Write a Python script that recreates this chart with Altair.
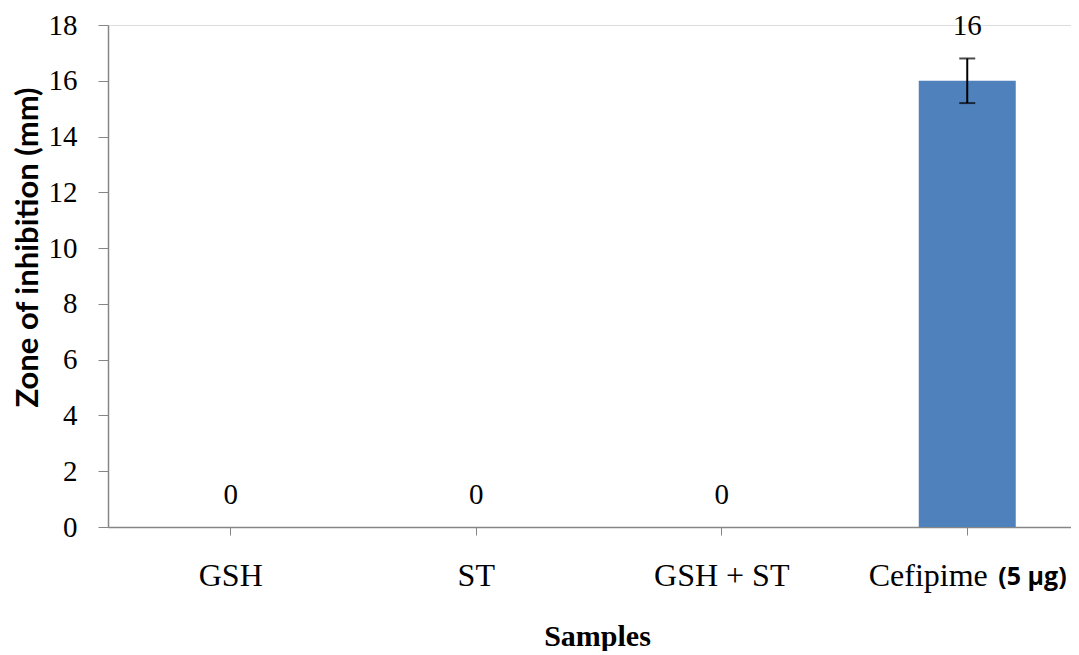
import altair as alt
import pandas as pd

samples = ["GSH", "ST", "GSH + ST", "Cefipime"]
zone = [0, 0, 0, 16]
err = [0, 0, 0, 0.8]
y_ticks = [0, 2, 4, 6, 8, 10, 12, 14, 16, 18]
note = "(5 µg)"

df = pd.DataFrame({"sample": samples, "zone": zone, "err": err})
df["lo"] = df["zone"] - df["err"]
df["hi"] = df["zone"] + df["err"]
df["lbl"] = df["zone"].astype(int).astype(str)

W, H = 963, 502
SERIF = "Liberation Serif"
AX = "#868686"

x = alt.X(
    "sample:N",
    sort=samples,
    scale=alt.Scale(domain=samples, range=[0, 982], paddingInner=0, paddingOuter=0),
    axis=alt.Axis(
        title="Samples",
        titleFont=SERIF, titleFontSize=30, titleFontWeight="bold", titleColor="#000",
        titleX=489, titleY=109, titleAlign="center", titleBaseline="middle",
        labelFont=SERIF, labelFontSize=32, labelColor="#000", labelAngle=0,
        labelPadding=25,
        labelOffset={"condition": {"test": "datum.value === 'Cefipime'", "value": -39}, "value": 0},
        tickSize=8, tickColor=AX, domainColor=AX, domainWidth=1.5, tickWidth=1,
        grid=False,
    ),
)

y_scale = alt.Scale(domain=[0, 18], nice=False)
y_axis = alt.Axis(
    title="Zone of inhibition (mm)",
    titleFont="Lato", titleFontSize=31, titleFontWeight="bold", titleColor="#000",
    titleAngle=-90, titleX=-80, titleY=222, titleAlign="center", titleBaseline="middle",
    values=y_ticks, labelFont=SERIF, labelFontSize=29, labelColor="#000",
    labelPadding=21, tickSize=10, tickColor=AX, domainColor=AX, domainWidth=1.5,
    grid=False,
)

base = alt.Chart(df)

bars = base.mark_bar(size=97, color="#4F81BD").encode(
    x=x, y=alt.Y("zone:Q", scale=y_scale, axis=y_axis)
)

eb = base.transform_filter("datum.err > 0")
rule = eb.mark_rule(color="#000", strokeWidth=2).encode(x=x, y="lo:Q", y2="hi:Q")
cap_hi = eb.mark_tick(orient="horizontal", size=16, thickness=2, color="#000").encode(x=x, y="hi:Q")
cap_lo = eb.mark_tick(orient="horizontal", size=16, thickness=2, color="#000").encode(x=x, y="lo:Q")

labels = base.mark_text(font=SERIF, fontSize=29, color="#000", dy=-32, baseline="middle").encode(
    x=x, y="hi:Q", text="lbl:N"
)

note_df = pd.DataFrame({"sample": ["Cefipime"], "t": [note]})
note_txt = alt.Chart(note_df).mark_text(
    font="Open Sans", fontSize=25, fontWeight="bold", color="#000", align="left", baseline="middle", dx=31
).encode(x=x, y=alt.value(H + 50), text="t:N")

chart = alt.layer(bars, rule, cap_hi, cap_lo, labels, note_txt).properties(
    width=W, height=H,
    padding={"left": 100, "top": 17, "right": 0, "bottom": 124},
    autosize=alt.AutoSizeParams(type="none"),
).configure_view(stroke=None).configure(background="white")

chart.save("out.html", embed_options={"renderer": "svg", "actions": False})
